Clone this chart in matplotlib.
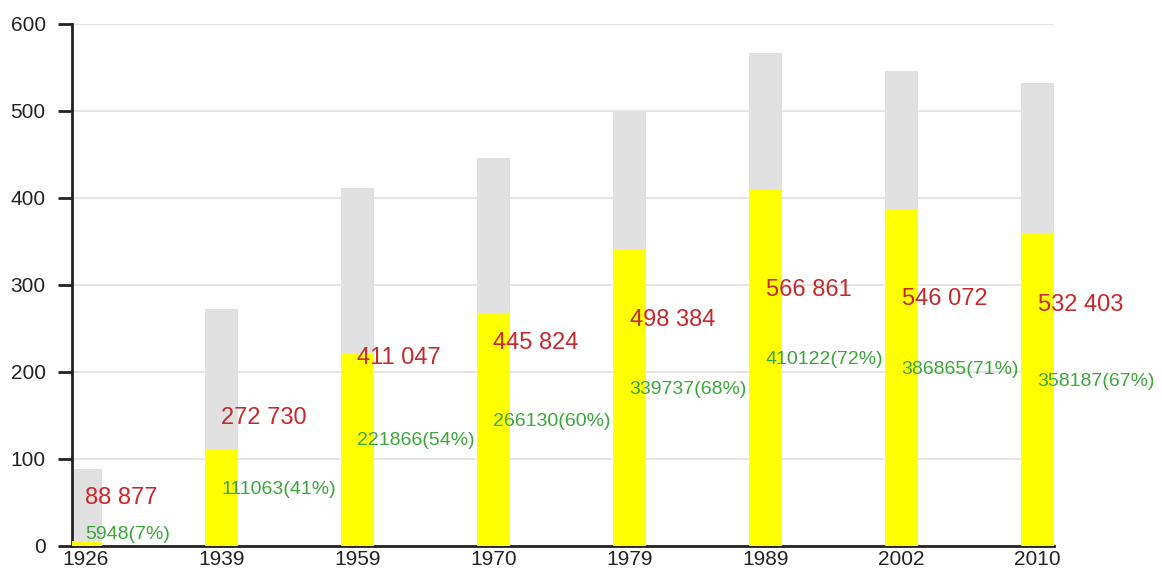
import numpy as np
import matplotlib.pyplot as plt

plt.rcParams['font.family'] = ['Liberation Sans', 'DejaVu Sans']

years = ['1926', '1939', '1959', '1970', '1979', '1989', '2002', '2010']
totals = [88877, 272730, 411047, 445824, 498384, 566861, 546072, 532403]
subset = [5948, 111063, 221866, 266130, 339737, 410122, 386865, 358187]
percent = [7, 41, 54, 60, 68, 72, 71, 67]

total_labels = ['88 877', '272 730', '411 047', '445 824', '498 384', '566 861', '546 072', '532 403']

fig = plt.figure(figsize=(11.62, 5.71), dpi=100)
ax = fig.add_axes([0.062, 0.0438, 0.845, 0.9142])

x = np.arange(len(years))
w = 0.243
tot_k = np.array(totals) / 1000
sub_k = np.array(subset) / 1000

ax.bar(x, tot_k, width=w, color='#e0e0e0', zorder=2)
ax.bar(x, sub_k, width=w, color='#ffff00', zorder=3)

for i in range(len(years)):
    ax.text(x[i], tot_k[i] / 2 - 2, total_labels[i], color='#c8282a', fontsize=17,
            ha='left', va='bottom', zorder=5)
    ax.text(x[i], sub_k[i] / 2, f'{subset[i]}({percent[i]}%)', color='#3aa63a',
            fontsize=14, ha='left', va='bottom', zorder=5)

ax.set_xlim(-0.098, 7.12)
ax.set_ylim(0, 600)
ax.set_yticks(range(0, 601, 100))
ax.set_xticks(x)
ax.set_xticklabels(years)

ax.grid(axis='y', color='#e4e4e4', linewidth=1.5, zorder=0)
ax.set_axisbelow(True)

for s in ['top', 'right']:
    ax.spines[s].set_visible(False)
ax.spines['left'].set_color('#222222')
ax.spines['left'].set_linewidth(2)
ax.spines['bottom'].set_color('#222222')
ax.spines['bottom'].set_linewidth(2)

ax.tick_params(axis='y', length=10, width=2, color='#222222', labelsize=15,
               labelcolor='#222222', pad=9)
ax.tick_params(axis='x', length=0, labelsize=15, labelcolor='#222222', pad=3)

fig.savefig('out.png', dpi=100)
